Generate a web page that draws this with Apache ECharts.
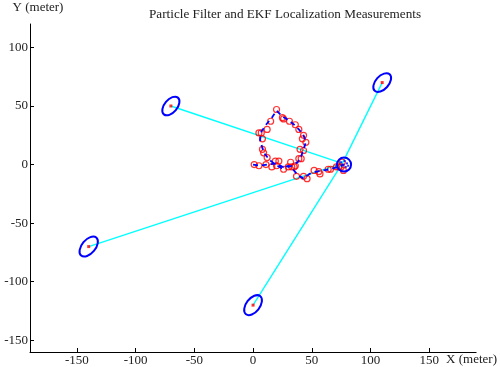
<!DOCTYPE html>
<html>
<head>
<meta charset="utf-8">
<script src="https://cdn.jsdelivr.net/npm/echarts@6/dist/echarts.min.js"></script>
<style>
  html, body { margin: 0; padding: 0; background: #fff; }
  #chart { width: 500px; height: 367px; }
</style>
</head>
<body>
<div id="chart"></div>
<script>
var chart = echarts.init(document.getElementById('chart'));

// tick labels
var xTicks = [-150, -100, -50, 0, 50, 100, 150];
var yTicks = [-150, -100, -50, 0, 50, 100];

// landmarks (true positions)
var landmarks = [[-70, 50], [-140, -70], [110, 70], [0, -120]];
// landmark uncertainty ellipses: [x, y, semi-major, semi-minor, angle deg]
var landmarkEllipses = [
  [-70, 50, 9.3, 5.5, 50],
  [-140, -70, 10, 5.8, 50],
  [110, 70, 9.5, 5.6, 48],
  [0, -120, 9.8, 5.8, 52]
];
// robot estimate ellipse
var robotEllipse = [[77.5, 0, 6, 6, 0]];
var robotPos = [76, 1];
// scattered samples inside the robot ellipse
var robotSamples = [[75, 2], [78, 3], [80, 1], [76, -1], [79, -2], [77, 0], [81, -1]];

// EKF path (blue dashed)
var ekfPath = [
  [0, 0], [6, -1], [12, 0], [20, 1], [27, -3], [33, -1], [38, 2], [41, 7],
  [43, 13], [45, 19], [43, 25], [39, 30], [35, 34], [30, 38], [25, 41], [20, 46],
  [16, 40], [11, 34], [7, 28], [6, 21], [8, 14], [10, 9], [14, 4], [19, 0],
  [24, -3], [30, -1], [34, -4], [38, -9], [43, -12], [48, -8], [54, -6],
  [60, -5], [66, -4], [72, -2], [77, 0]
];
// particle filter estimates (red circles)
var pfPoints = [
  [1, 0], [5, -1], [11, 0], [19, 3], [20, -1], [26, -4], [22, 3], [32, 2],
  [33, -2], [30, -2], [36, -1], [39, 5], [41, 5], [40, 13], [43, 12], [45, 19],
  [42, 22], [43, 25], [39, 30], [36, 34], [31, 37], [25, 40], [26, 39], [20, 47],
  [15, 37], [12, 30], [7, 27], [5, 27], [8, 22], [8, 13], [9, 10], [12, 6],
  [37, -10], [43, -10], [46, -12], [52, -5], [56, -6], [57, -8], [64, -4],
  [66, -4], [71, -2], [73, -2], [75, -2], [76, 2], [77, -5], [35, -2], [16, -2]
];

var measLines = landmarks.map(function (p) { return [p, robotPos]; });

function ellipseItem(params, api) {
  var c = api.coord([api.value(0), api.value(1)]);
  var s = api.size([api.value(2), api.value(3)]);
  return {
    type: 'ellipse',
    x: c[0],
    y: c[1],
    rotation: api.value(4) * Math.PI / 180,
    shape: { cx: 0, cy: 0, rx: s[0], ry: s[1] },
    style: { fill: 'none', stroke: '#0000ff', lineWidth: 2 }
  };
}

var font = 'Liberation Serif';
var series = [];

measLines.forEach(function (seg) {
  series.push({
    type: 'line',
    data: seg,
    symbol: 'none',
    silent: true,
    lineStyle: { color: '#00ffff', width: 1.4 },
    z: 1
  });
});

series.push({
  type: 'scatter',
  data: pfPoints,
  symbol: 'circle',
  symbolSize: 6,
  itemStyle: { color: 'rgba(0,0,0,0)', borderColor: '#ff0000', borderWidth: 1.2 },
  z: 3
});
series.push({
  type: 'line',
  data: ekfPath,
  symbol: 'none',
  lineStyle: { color: '#0000ff', width: 1.8, type: [5, 4] },
  z: 4
});
series.push({
  type: 'custom',
  data: landmarkEllipses.concat(robotEllipse),
  renderItem: ellipseItem,
  z: 5
});
series.push({
  type: 'scatter',
  data: robotSamples,
  symbol: 'rect',
  symbolSize: 2,
  itemStyle: { color: '#0000ff' },
  z: 5
});
series.push({
  type: 'scatter',
  data: landmarks,
  symbol: 'rect',
  symbolSize: 3,
  itemStyle: { color: '#ff0000' },
  z: 6
});

var option = {
  animation: false,
  title: {
    text: 'Particle Filter and EKF Localization Measurements',
    left: 144,
    top: 3,
    textStyle: { fontFamily: font, fontSize: 13.2, fontWeight: 'normal', color: '#222' }
  },
  grid: { left: 30, right: 22, top: 24, bottom: 13, containLabel: false },
  xAxis: {
    type: 'value',
    min: -190,
    max: 190,
    name: 'X (meter)',
    nameLocation: 'end',
    nameGap: -30,
    nameTextStyle: { fontFamily: font, fontSize: 13, color: '#222', align: 'left', verticalAlign: 'top', padding: [1, 0, 0, 0] },
    axisLine: { onZero: false, lineStyle: { color: '#000', width: 1 } },
    axisTick: { inside: true, length: 4, customValues: xTicks, lineStyle: { color: '#000' } },
    axisLabel: { customValues: xTicks, margin: 2, fontFamily: font, fontSize: 13, color: '#222' },
    splitLine: { show: false }
  },
  yAxis: {
    type: 'value',
    min: -160,
    max: 120,
    name: 'Y (meter)',
    nameLocation: 'end',
    nameGap: 10,
    nameTextStyle: { fontFamily: font, fontSize: 13, color: '#222', align: 'center', padding: [0, 0, 0, 16] },
    axisLine: { show: true, onZero: false, lineStyle: { color: '#000', width: 1 } },
    axisTick: { show: true, inside: true, length: 4, customValues: yTicks, lineStyle: { color: '#000' } },
    axisLabel: { customValues: yTicks, margin: 2, fontFamily: font, fontSize: 13, color: '#222' },
    splitLine: { show: false }
  },
  series: series
};

chart.setOption(option);
</script>
</body>
</html>
